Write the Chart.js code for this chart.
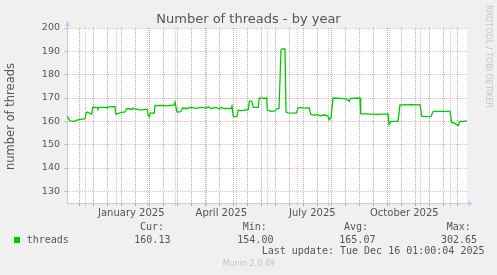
<!DOCTYPE html>
<html>
<head>
<meta charset="utf-8">
<script src="https://cdn.jsdelivr.net/npm/chart.js@4/dist/chart.umd.min.js"></script>
<style>
  html, body { margin: 0; padding: 0; background: #f0f0f0; overflow: hidden; }
  canvas { display: block; }
</style>
</head>
<body>
<canvas id="chart" width="497" height="275"></canvas>
<script>
// x values are days since 2024-11-11 00:00
const days = [
  1.7, 2.7, 4.5, 9.5, 11, 14.7, 19.7, 20.7, 22, 26.4, 27.4, 32, 32.7, 33.7, 41, 42, 43, 49.7,
  50.7, 56, 59.7, 61.4, 67, 68, 73, 76, 80, 82, 82.7, 84, 85, 89, 89.7, 96, 101, 109, 109.7,
  111.4, 112, 115.7, 117.4, 121, 126, 131, 136, 141, 143, 146, 151, 154, 155, 159, 166, 166.7,
  168, 171.4, 173, 176, 183, 184, 186.4, 188, 193, 194, 197, 201.4, 202, 206, 210, 211.4,
  213.7, 215.7, 216.7, 219.7, 220.7, 222.7, 231, 233, 237, 239, 244, 245.4, 249, 251, 253,
  256, 259, 262.7, 263.7, 265.7, 267.7, 276, 281, 284, 285, 294.7, 295.4, 301, 311, 322.7,
  323.7, 325.7, 332.7, 334.7, 346, 354.7, 356.4, 361, 365.7, 367, 368, 384.7, 386.4, 389,
  393, 394.7, 398, 401.7
];
const threads = [
  162, 161.8, 160.2, 160, 160.4, 160.8, 161, 163.5, 164, 163, 166, 166, 165, 166, 166, 165.6, 166.2, 166.3,
  163, 163.8, 164, 165.5, 165.2, 165.6, 165, 164.8, 165.2, 165, 162.8, 162, 163.5, 163.5, 166.7, 166.8, 166.6, 167, 168.2,
  164.5, 163.9, 164.2, 165.7, 165.5, 166, 165.6, 166, 165.7, 166.2, 165.5, 166, 165.2, 166, 165.5, 165.5, 166.5,
  162, 162, 164.8, 164.6, 165, 168.7, 168.7, 166, 166, 170, 169.8, 170, 164.8, 164.3, 164.5, 165.3,
  165.5, 190.5, 191, 191, 164, 163.6, 163.5, 166, 165.8, 165.7, 165.8, 163, 162.6, 163, 162.6,
  162.4, 162.8, 162.2, 160.7, 161.5, 170, 169.8, 169.6, 168.5, 169.8, 170, 163.2, 163.2, 163, 163.2,
  158.6, 160, 160, 167.1, 167.2, 167.1, 162.2, 162, 162, 163.5, 164.3, 164.3, 159.5, 159.2,
  158.2, 160, 160, 160.2
];
const monthStarts = [20, 51, 82, 110, 141, 171, 202, 232, 263, 294, 324, 355, 385];
const monthLabels = ["January 2025", "April 2025", "July 2025", "October 2025"];
const labelDays = [66, 156, 247, 339];
const yLabels = [130, 140, 150, 160, 170, 180, 190, 200];
const statNames = ["Cur:", "Min:", "Avg:", "Max:"];
const statValues = ["160.13", "154.00", "165.07", "302.65"];

const RED = "rgba(230, 120, 120, 0.5)";
const GREY = "rgba(120, 120, 120, 0.6)";
const AXIS = "#c8c8f0";

// biweekly minor lines (Mondays)
const minorDays = [];
for (let d = 14; d <= 400; d += 14) minorDays.push(d);

const xTickValues = [...minorDays, ...monthStarts, ...labelDays.map((d) => d + 0.001)].sort((a, b) => a - b);

const extras = {
  id: "extras",
  beforeDraw(chart) {
    const ctx = chart.ctx;
    const a = chart.chartArea;
    ctx.save();
    ctx.fillStyle = "#f0f0f0";
    ctx.fillRect(0, 0, chart.width, chart.height);
    ctx.fillStyle = "#ffffff";
    ctx.fillRect(a.left, a.top, a.right - a.left, a.bottom - a.top);
    ctx.restore();
  },
  afterDraw(chart) {
    const ctx = chart.ctx;
    const a = chart.chartArea;
    ctx.save();

    // axis arrows
    ctx.fillStyle = AXIS;
    ctx.strokeStyle = AXIS;
    ctx.lineWidth = 1;
    ctx.beginPath();
    ctx.moveTo(a.left + 0.5, a.top);
    ctx.lineTo(a.left + 0.5, a.top - 3);
    ctx.moveTo(a.right, a.bottom + 0.5);
    ctx.lineTo(a.right + 2, a.bottom + 0.5);
    ctx.stroke();
    ctx.beginPath();
    ctx.moveTo(a.left - 2, a.top - 2);
    ctx.lineTo(a.left + 3, a.top - 2);
    ctx.lineTo(a.left + 0.5, a.top - 7);
    ctx.closePath();
    ctx.fill();
    ctx.beginPath();
    ctx.moveTo(a.right + 1, a.bottom - 2.5);
    ctx.lineTo(a.right + 1, a.bottom + 3.5);
    ctx.lineTo(a.right + 6, a.bottom + 0.5);
    ctx.closePath();
    ctx.fill();

    // title
    ctx.fillStyle = "#555";
    ctx.font = "13px 'DejaVu Sans'";
    ctx.textAlign = "center";
    ctx.textBaseline = "alphabetic";
    ctx.fillText("Number of threads - by year", 248.5, 23);

    // y axis title
    ctx.save();
    ctx.translate(11, 116.5);
    ctx.rotate(-Math.PI / 2);
    ctx.font = "11.5px 'DejaVu Sans'";
    ctx.textBaseline = "middle";
    ctx.fillText("number of threads", 0, 0);
    ctx.restore();

    // side credit
    ctx.save();
    ctx.translate(488, 5);
    ctx.rotate(Math.PI / 2);
    ctx.fillStyle = "#c4c4c4";
    ctx.font = "8px 'DejaVu Sans'";
    ctx.textAlign = "left";
    ctx.textBaseline = "middle";
    ctx.fillText("RRDTOOL / TOBI OETIKER", 0, 0);
    ctx.restore();

    // legend
    ctx.fillStyle = "#00cc00";
    ctx.fillRect(14, 237, 6, 6);
    ctx.fillStyle = "#555";
    ctx.font = "10px 'DejaVu Sans Mono'";
    ctx.textAlign = "left";
    ctx.textBaseline = "middle";
    ctx.fillText("threads", 26.7, 240);
    const headX = [140, 242.7, 344, 446.7];
    const valX = [134.3, 237.3, 339.3, 441];
    statNames.forEach((n, i) => ctx.fillText(n, headX[i], 227.7));
    statValues.forEach((v, i) => ctx.fillText(v, valX[i], 240));
    ctx.fillText("Last update: Tue Dec 16 01:00:04 2025", 261.7, 251.7);

    ctx.fillStyle = "#c4c4c4";
    ctx.font = "8px 'DejaVu Sans'";
    ctx.textAlign = "center";
    ctx.fillText("Munin 2.0.49", 248.8, 264);
    ctx.restore();
  },
};

new Chart(document.getElementById("chart"), {
  type: "line",
  data: {
    datasets: [
      {
        label: "threads",
        data: days.map((d, i) => ({ x: d, y: threads[i] })),
        borderColor: "#00cc00",
        borderWidth: 1.3,
        pointRadius: 0,
        tension: 0,
        fill: false,
      },
    ],
  },
  options: {
    responsive: false,
    animation: false,
    devicePixelRatio: 1,
    layout: { padding: { left: 0, top: 28, right: 30, bottom: 0 } },
    plugins: { legend: { display: false }, tooltip: { enabled: false } },
    scales: {
      x: {
        type: "linear",
        min: 1.7,
        max: 401.7,
        afterBuildTicks: (s) => {
          s.ticks = xTickValues.map((v) => ({ value: v }));
        },
        afterFit: (s) => {
          s.height = 72;
        },
        ticks: {
          autoSkip: false,
          maxRotation: 0,
          padding: 1,
          color: "#555",
          font: { family: "DejaVu Sans", size: 10 },
          callback: (v) => {
            const i = labelDays.findIndex((d) => Math.abs(d + 0.001 - v) < 0.01);
            return i >= 0 ? monthLabels[i] : "";
          },
        },
        grid: {
          drawTicks: true,
          tickLength: 3,
          lineWidth: 1,
          color: (c) => {
            const v = c.tick ? c.tick.value : 0;
            if (monthStarts.includes(v)) return RED;
            if (minorDays.includes(v)) return GREY;
            return "rgba(0,0,0,0)";
          },
        },
        border: { display: true, color: AXIS, width: 1, dash: [1, 1] },
      },
      y: {
        type: "linear",
        min: 125,
        max: 200,
        afterBuildTicks: (s) => {
          const t = [];
          for (let v = 130; v <= 200; v += 5) t.push({ value: v });
          s.ticks = t;
        },
        afterFit: (s) => {
          s.width = 67;
        },
        ticks: {
          padding: 4,
          color: "#555",
          font: { family: "DejaVu Sans", size: 9.5 },
          callback: (v) => (yLabels.includes(v) ? String(v) : ""),
        },
        grid: {
          drawTicks: true,
          tickLength: 3,
          lineWidth: 1,
          color: (c) => {
            const v = c.tick ? c.tick.value : 0;
            return v % 10 === 0 ? RED : GREY;
          },
        },
        border: { display: true, color: AXIS, width: 1, dash: [1, 1] },
      },
    },
  },
  plugins: [extras],
});
</script>
</body>
</html>
